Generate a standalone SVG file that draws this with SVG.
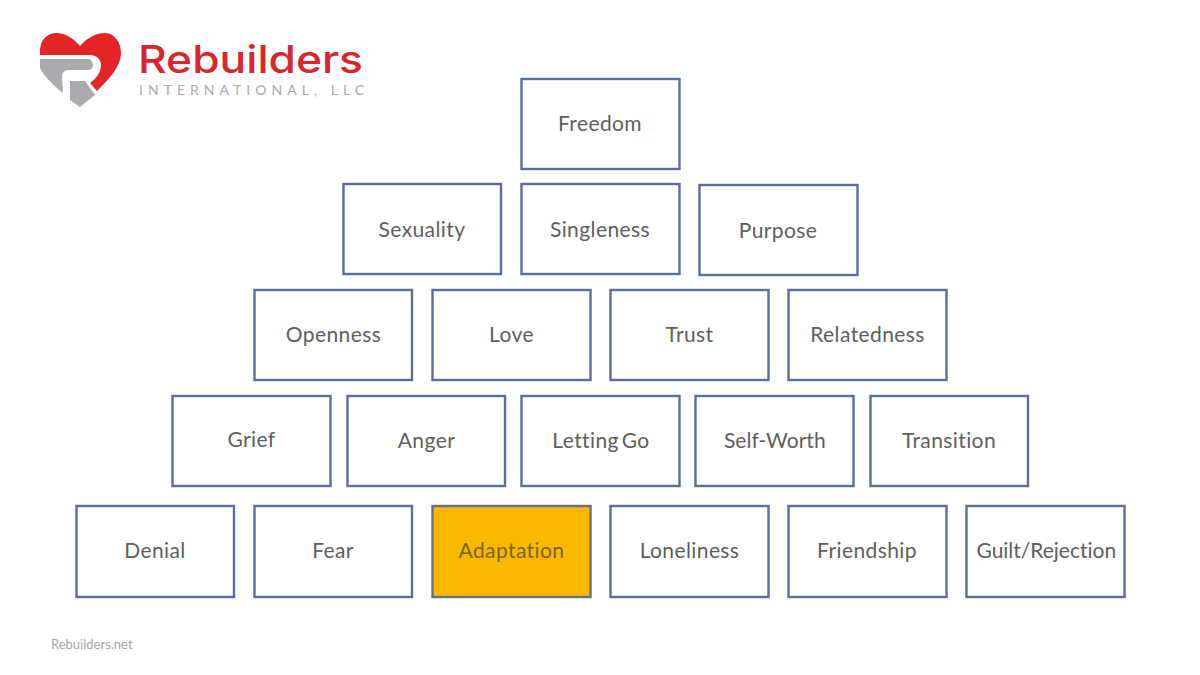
<svg xmlns="http://www.w3.org/2000/svg" width="1200" height="675" viewBox="0 0 1200 675">
<style>
.b{fill:#fff;stroke:#5a6d9b;stroke-width:2.4}
.t{font-family:Lato,"Open Sans",sans-serif;font-size:21px;fill:#5e5e5e;text-anchor:middle;letter-spacing:.4px}
</style>
<rect width="1200" height="675" fill="#fff"/>
<g id="logo">
<path fill="#e42528" d="M40 49C41 38 49 33 56 33C66 33 74 39 80 46C86 39 95 33 105 33C114 33 121 42 121 53C121 67 108 80 97 91L90 83C97 78 101 72 101 65C101 59 96 55 90 55H40Z"/>
<path fill="#a9abae" d="M40 59H88C91 59 93 62 93 65C93 68 91 70 88 70H69C64 70 62 73 62 77L63 93C52 84 44 76 40 68Z"/>
<path fill="#a9abae" d="M70 81H85L95 95L80 107L70 100Z"/>
<text x="138" y="73" font-family="Inter,Lato,sans-serif" font-weight="500" font-size="38" fill="#d7262e" textLength="225" lengthAdjust="spacingAndGlyphs">Rebuilders</text>
<text x="139" y="95" font-family="Lato,sans-serif" font-size="14" fill="#a9abae" textLength="225">INTERNATIONAL, LLC</text>
</g>
<g id="n-freedom"><rect class="b" x="521.500" y="79" width="158" height="90"/><text class="t" x="600" y="131">Freedom</text></g>
<g id="n-sexuality"><rect class="b" x="343.500" y="184" width="157.500" height="90"/><text class="t" x="422" y="237">Sexuality</text></g>
<g id="n-singleness"><rect class="b" x="521.500" y="184" width="158" height="90"/><text class="t" x="600" y="237">Singleness</text></g>
<g id="n-purpose"><rect class="b" x="699.500" y="185" width="158" height="90"/><text class="t" x="778" y="238">Purpose</text></g>
<g id="n-openness"><rect class="b" x="254.500" y="290" width="157.500" height="90"/><text class="t" x="333.500" y="342">Openness</text></g>
<g id="n-love"><rect class="b" x="432.500" y="290" width="158" height="90"/><text class="t" x="511.500" y="342">Love</text></g>
<g id="n-trust"><rect class="b" x="610.500" y="290" width="158" height="90"/><text class="t" x="689.500" y="342">Trust</text></g>
<g id="n-relatedness"><rect class="b" x="788.500" y="290" width="158" height="90"/><text class="t" x="867.500" y="342">Relatedness</text></g>
<g id="n-grief"><rect class="b" x="172.500" y="396" width="158" height="90"/><text class="t" x="251.500" y="447">Grief</text></g>
<g id="n-anger"><rect class="b" x="347.500" y="396" width="157.500" height="90"/><text class="t" x="426.500" y="448">Anger</text></g>
<g id="n-lettinggo"><rect class="b" x="521.500" y="396" width="158" height="90"/><text class="t" x="601" y="448" word-spacing="-3">Letting Go</text></g>
<g id="n-selfworth"><rect class="b" x="695.500" y="396" width="158" height="90"/><text class="t" x="775" y="448" textLength="102">Self-Worth</text></g>
<g id="n-transition"><rect class="b" x="870.500" y="396" width="157.500" height="90"/><text class="t" x="949" y="448">Transition</text></g>
<g id="n-denial"><rect class="b" x="76.500" y="506" width="157.500" height="91"/><text class="t" x="155" y="558">Denial</text></g>
<g id="n-fear"><rect class="b" x="254.500" y="506" width="157.500" height="91"/><text class="t" x="333" y="558">Fear</text></g>
<g id="n-adaptation"><rect x="432.500" y="506" width="158" height="91" fill="#fbb800" stroke="#66708a" stroke-width="2.4"/><text class="t" x="511.500" y="558" style="fill:#7a6416">Adaptation</text></g>
<g id="n-loneliness"><rect class="b" x="610.500" y="506" width="158" height="91"/><text class="t" x="689.500" y="558">Loneliness</text></g>
<g id="n-friendship"><rect class="b" x="788.500" y="506" width="158" height="91"/><text class="t" x="867" y="558">Friendship</text></g>
<g id="n-guilt"><rect class="b" x="966.500" y="506" width="158" height="91"/><text class="t" x="1046.500" y="558" textLength="140">Guilt/Rejection</text></g>
<g id="connectors"></g>
<text x="51" y="649" font-family="Lato,sans-serif" font-size="13" fill="#a6a6a6">Rebuilders.net</text>
</svg>
